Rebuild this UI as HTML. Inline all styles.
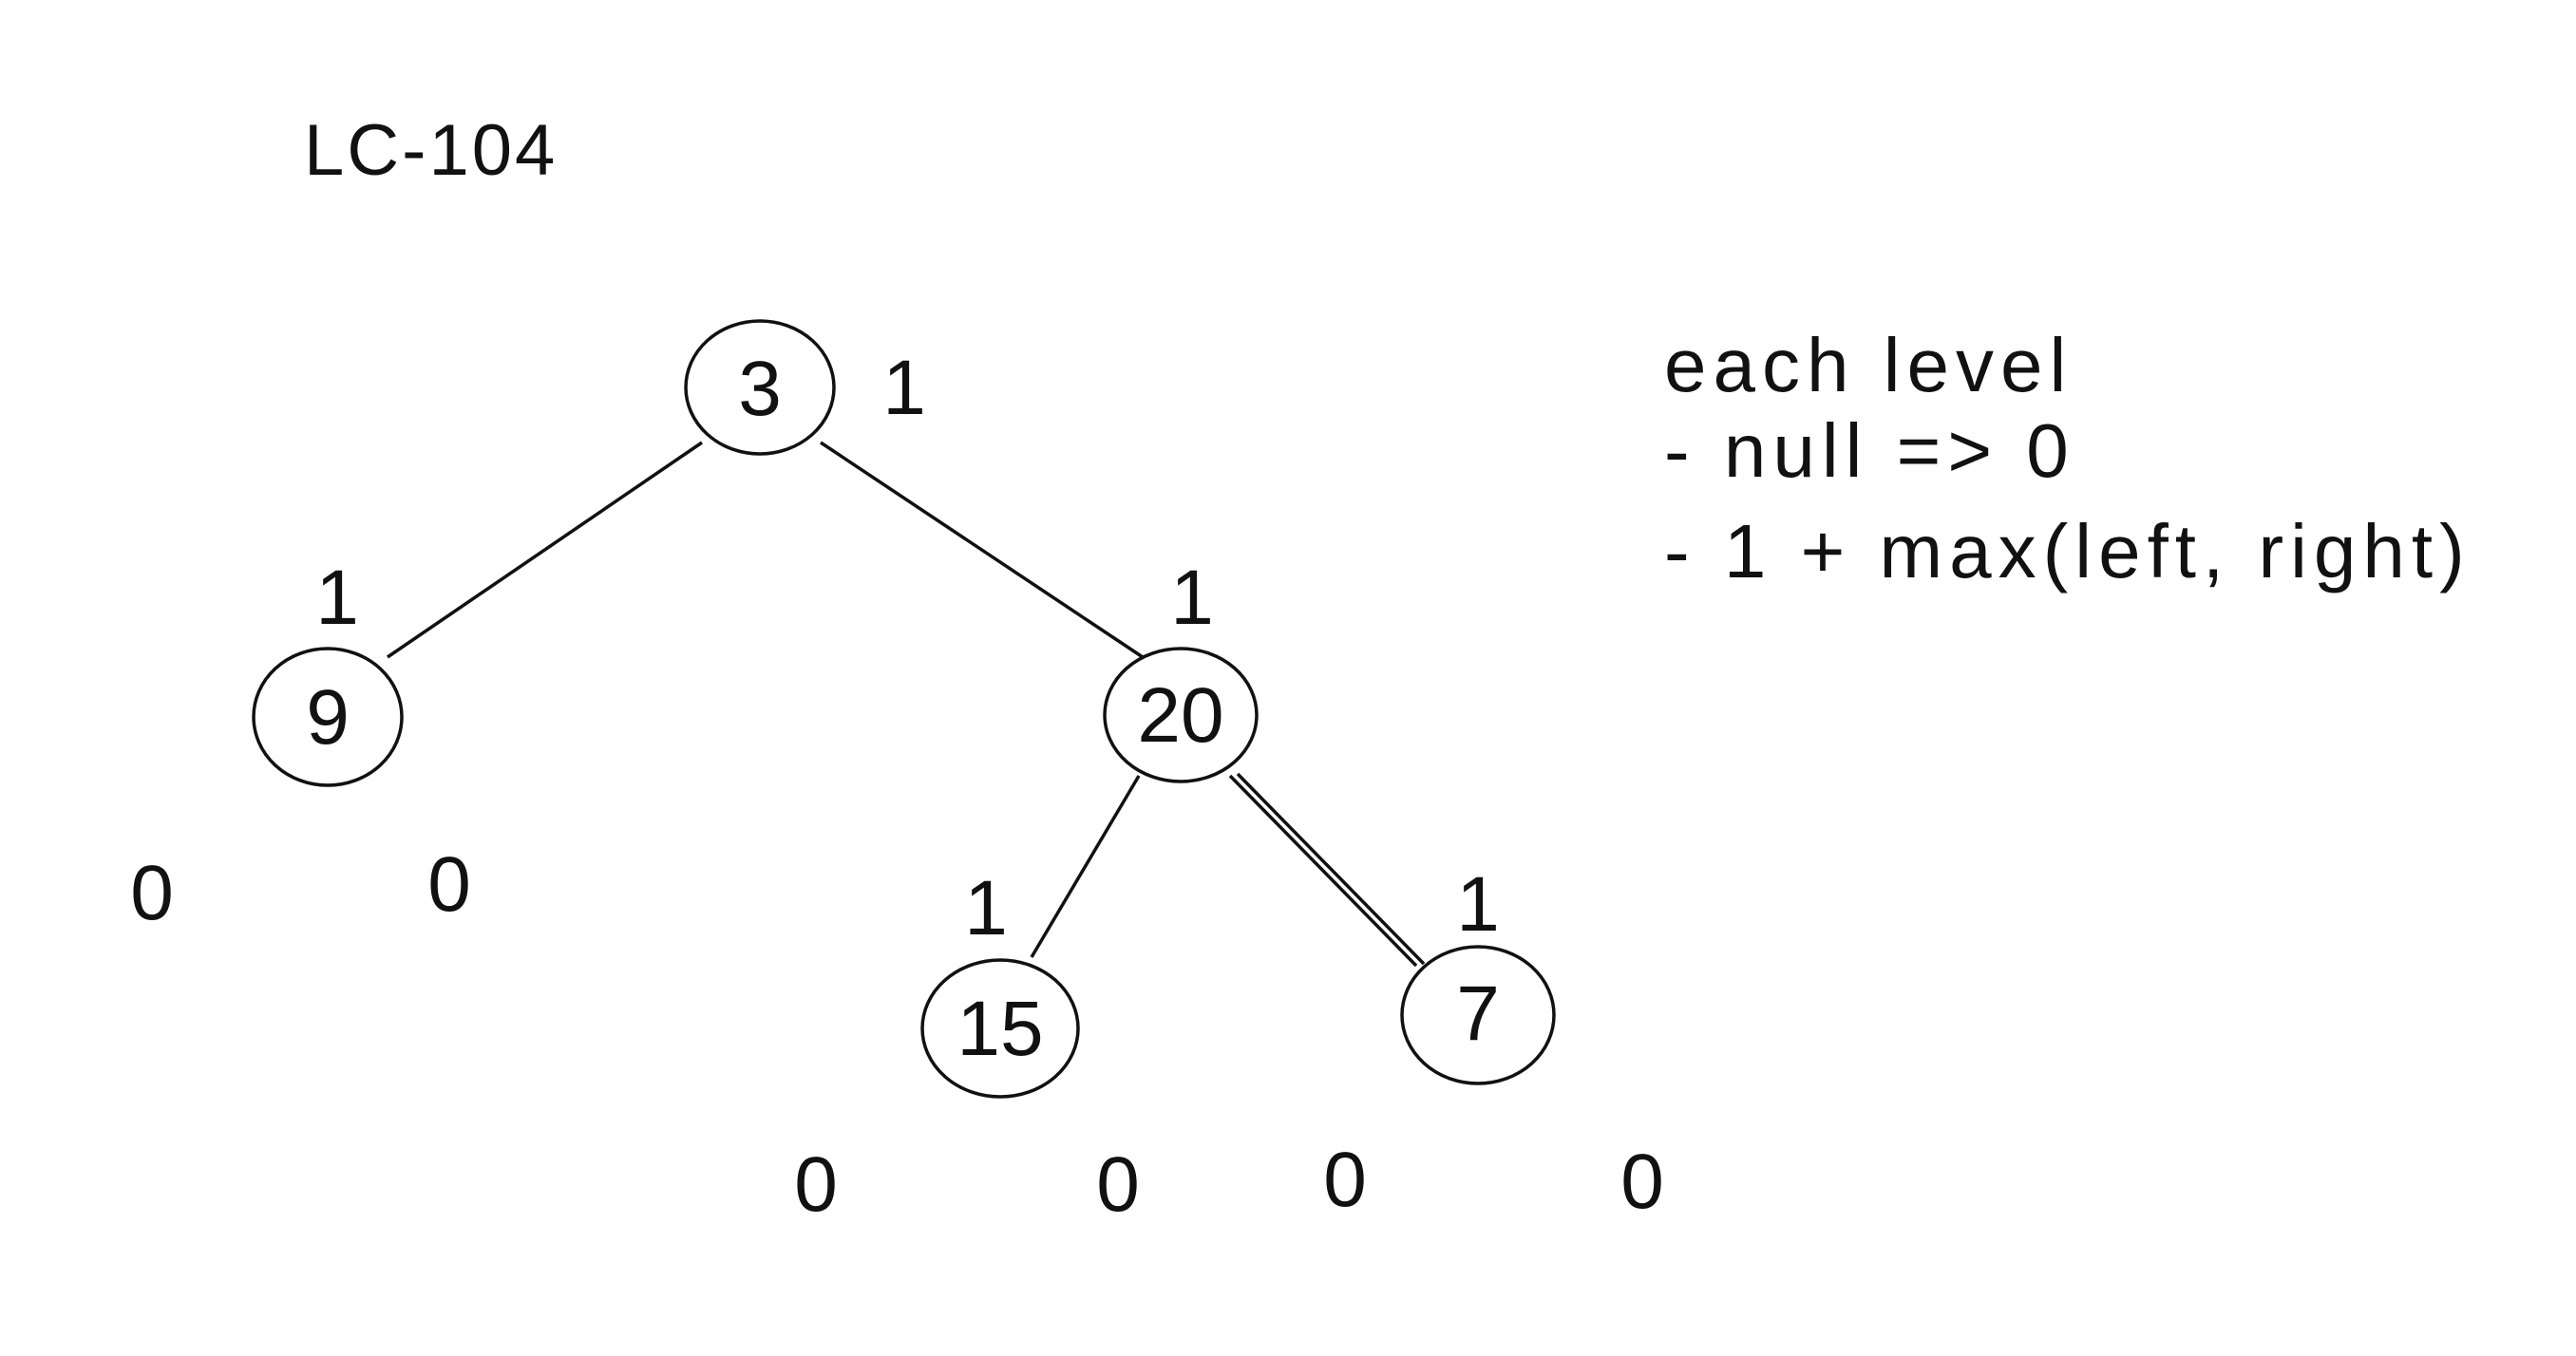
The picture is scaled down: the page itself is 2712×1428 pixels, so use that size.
<!DOCTYPE html>
<html><head><meta charset="utf-8"><style>
html,body{margin:0;padding:0;background:#fff;}
svg{display:block;}
text{font-family:"Liberation Sans",sans-serif;fill:#111;}
</style></head><body>
<svg width="2712" height="1428" viewBox="0 0 2712 1428" xmlns="http://www.w3.org/2000/svg">
<g stroke="#111" stroke-width="3.5" fill="none">
<ellipse cx="800" cy="408" rx="78" ry="70"/>
<ellipse cx="345" cy="755" rx="78" ry="72"/>
<ellipse cx="1243" cy="753" rx="80" ry="70"/>
<ellipse cx="1053" cy="1083" rx="82" ry="72"/>
<ellipse cx="1556" cy="1069" rx="80" ry="72"/>
<line x1="739" y1="466" x2="408" y2="692"/>
<line x1="864" y1="466" x2="1203" y2="692"/>
<line x1="1199" y1="817" x2="1086" y2="1008"/>
<line x1="1295" y1="817" x2="1491" y2="1017"/>
<line x1="1303" y1="815" x2="1499" y2="1015"/>
</g>
<g font-size="76">
<text x="320" y="184" letter-spacing="3">LC-104</text>
</g>
<g font-size="80" letter-spacing="7">
<text x="1752" y="412">each level</text>
<text x="1752" y="502">- null =&gt; 0</text>
<text x="1752" y="608">- 1 + max(left, right)</text>
</g>
<g font-size="82" text-anchor="middle">
<text x="800" y="437">3</text>
<text x="345" y="783">9</text>
<text x="1243" y="781">20</text>
<text x="1053" y="1111">15</text>
<text x="1556" y="1095">7</text>
<text x="952" y="436">1</text>
<text x="355" y="657">1</text>
<text x="1255" y="657">1</text>
<text x="1038" y="984">1</text>
<text x="1556" y="980">1</text>
<text x="160" y="968">0</text>
<text x="473" y="959">0</text>
<text x="859" y="1275">0</text>
<text x="1177" y="1275">0</text>
<text x="1416" y="1270">0</text>
<text x="1729" y="1272">0</text>
</g>
</svg>
</body></html>
